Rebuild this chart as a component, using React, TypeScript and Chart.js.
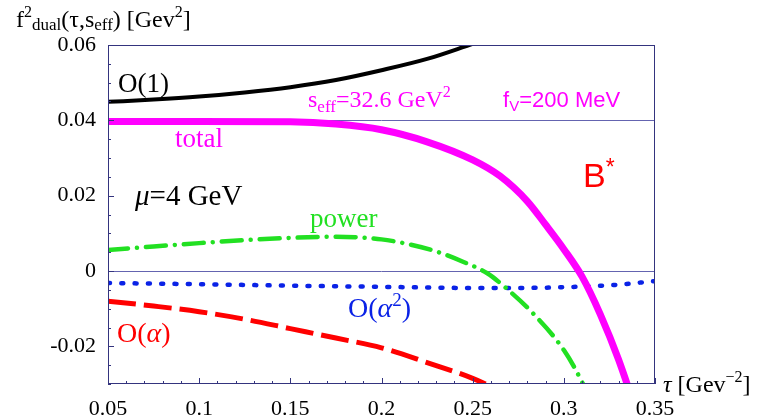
import React, { useEffect, useRef } from "react";
import { Chart, registerables } from "chart.js";
Chart.register(...registerables);

// ---- data ----
const tauO1 = [0.05, 0.075, 0.1, 0.125, 0.15, 0.175, 0.2, 0.225, 0.25];
const valO1 = [0.0449, 0.0455, 0.0463, 0.0474, 0.0488, 0.0507, 0.0533, 0.0563, 0.0603];

const tauTotal = [0.05, 0.1, 0.15, 0.175, 0.2, 0.225, 0.25, 0.265, 0.28, 0.29, 0.3, 0.31, 0.32, 0.33, 0.345];
const valTotal = [0.0397, 0.0397, 0.0396, 0.039, 0.0375, 0.0343, 0.0295, 0.0252, 0.0185, 0.0123, 0.0058, -0.0015, -0.0115, -0.0235, -0.045];

const tauPower = [0.05, 0.075, 0.1, 0.125, 0.15, 0.175, 0.2, 0.215, 0.23, 0.245, 0.258, 0.267, 0.283, 0.3, 0.31, 0.315];
const valPower = [0.0056, 0.0065, 0.0074, 0.0082, 0.0088, 0.0091, 0.0084, 0.0071, 0.0052, 0.0024, -0.0006, -0.004, -0.0112, -0.021, -0.0295, -0.035];

const tauAlpha2 = [0.05, 0.1, 0.15, 0.2, 0.25, 0.275, 0.3, 0.325, 0.35];
const valAlpha2 = [-0.0032, -0.0035, -0.0039, -0.0042, -0.0045, -0.0045, -0.0043, -0.0038, -0.0027];

const tauAlpha = [0.05, 0.075, 0.1, 0.125, 0.15, 0.175, 0.2, 0.225, 0.25, 0.265];
const valAlpha = [-0.008, -0.0093, -0.0108, -0.0128, -0.0153, -0.0178, -0.0204, -0.0243, -0.0285, -0.0318];

const xTickValues = [0.05, 0.1, 0.15, 0.2, 0.25, 0.3, 0.35];
const xTickLabels = ["0.05", "0.1", "0.15", "0.2", "0.25", "0.3", "0.35"];
const yTickValues = [-0.02, 0, 0.02, 0.04, 0.06];
const yTickLabels = ["-0.02", "0", "0.02", "0.04", "0.06"];
const refLines = [0, 0.04];

const zip = (xs: number[], ys: number[]) => xs.map((x, i) => ({ x, y: ys[i] }));

type Seg = { t: string; size: number; dy?: number; italic?: boolean; sans?: boolean };

const SERIF = '"Liberation Serif", "DejaVu Serif", serif';
const SANS = '"Liberation Sans", "DejaVu Sans", sans-serif';

function drawRich(ctx: CanvasRenderingContext2D, x: number, y: number, segs: Seg[], color: string) {
  let cx = x;
  ctx.fillStyle = color;
  ctx.textBaseline = "alphabetic";
  ctx.textAlign = "left";
  for (const s of segs) {
    ctx.font = `${s.italic ? "italic " : ""}${s.size}px ${s.sans ? SANS : SERIF}`;
    ctx.fillText(s.t, cx, y + (s.dy || 0));
    cx += ctx.measureText(s.t).width;
  }
}

const annotations: { tau: number; v: number; color: string; segs: Seg[] }[] = [
  { tau: 0.0555, v: 0.0475, color: "#000", segs: [{ t: "O(1)", size: 27 }] },
  { tau: 0.0867, v: 0.0329, color: "#ff00ff", segs: [{ t: "total", size: 27 }] },
  {
    tau: 0.1597, v: 0.0435, color: "#ff00ff",
    segs: [
      { t: "s", size: 24 }, { t: "eff", size: 17, dy: 5 }, { t: "=32.6 GeV", size: 24 }, { t: "2", size: 16, dy: -10 },
    ],
  },
  {
    tau: 0.2667, v: 0.0435, color: "#ff00ff",
    segs: [{ t: "f", size: 22, sans: true }, { t: "V", size: 15, dy: 4, sans: true }, { t: "=200 MeV", size: 22, sans: true }],
  },
  { tau: 0.3105, v: 0.0223, color: "#ff0000", segs: [{ t: "B", size: 34, sans: true }, { t: "*", size: 23, dy: -12, sans: true }] },
  { tau: 0.0648, v: 0.0175, color: "#000", segs: [{ t: "μ", size: 29, italic: true }, { t: "=4 GeV", size: 29 }] },
  { tau: 0.1608, v: 0.0117, color: "#22e022", segs: [{ t: "power", size: 27 }] },
  {
    tau: 0.1816, v: -0.0122, color: "#0a22e6",
    segs: [{ t: "O(", size: 28 }, { t: "α", size: 28, italic: true }, { t: "2", size: 19, dy: -11 }, { t: ")", size: 28 }],
  },
  {
    tau: 0.0549, v: -0.0188, color: "#ff0000",
    segs: [{ t: "O(", size: 28 }, { t: "α", size: 28, italic: true }, { t: ")", size: 28 }],
  },
];

const framePlugin = {
  id: "framePlugin",
  beforeDatasetsDraw(chart: any) {
    const { ctx, chartArea, scales } = chart;
    const { left, right } = chartArea;
    ctx.save();
    ctx.strokeStyle = "#6464b0";
    ctx.lineWidth = 1;
    for (const v of refLines) {
      const py = Math.round(scales.y.getPixelForValue(v)) + 0.5;
      ctx.beginPath();
      ctx.moveTo(left, py);
      ctx.lineTo(right, py);
      ctx.stroke();
    }
    ctx.restore();
  },
  afterDatasetsDraw(chart: any) {
    const { ctx, chartArea, scales } = chart;
    const { left, right, top, bottom } = chartArea;
    ctx.save();
    ctx.strokeStyle = "#34347e";
    ctx.lineWidth = 1;
    ctx.strokeRect(left + 0.5, top + 0.5, right - left - 1, bottom - top - 1);
    ctx.beginPath();
    for (let i = -6; i <= 12; i++) {
      const v = i * 0.005;
      const py = Math.round(scales.y.getPixelForValue(v)) + 0.5;
      const len = i % 4 === 0 ? 6 : 3;
      ctx.moveTo(left, py);
      ctx.lineTo(left + len, py);
    }
    for (let i = 5; i <= 35; i++) {
      const v = i * 0.01;
      const px = Math.round(scales.x.getPixelForValue(v)) + 0.5;
      const len = i % 5 === 0 ? 6 : 3;
      ctx.moveTo(px, bottom);
      ctx.lineTo(px, bottom - len);
    }
    ctx.stroke();
    ctx.restore();

    ctx.save();
    for (const a of annotations) {
      drawRich(ctx, scales.x.getPixelForValue(a.tau), scales.y.getPixelForValue(a.v), a.segs, a.color);
    }
    drawRich(ctx, 16, 27, [
      { t: "f", size: 24 }, { t: "2", size: 16, dy: -10 }, { t: "dual", size: 17, dy: 3 },
      { t: "(", size: 24 }, { t: "τ", size: 24 }, { t: ",s", size: 24 }, { t: "eff", size: 17, dy: 3 },
      { t: ") [Gev", size: 24 }, { t: "2", size: 16, dy: -10 }, { t: "]", size: 24 },
    ], "#000");
    drawRich(ctx, 663, 392, [
      { t: "τ", size: 24, italic: true }, { t: " [Gev", size: 24 }, { t: "−2", size: 16, dy: -10 }, { t: "]", size: 24 },
    ], "#000");
    ctx.restore();
  },
};

export default function App() {
  const ref = useRef<HTMLCanvasElement | null>(null);
  useEffect(() => {
    document.body.style.margin = "0";
    const canvas = ref.current;
    if (!canvas) return;
    const chart = new Chart(canvas, {
      type: "line",
      data: {
        datasets: [
          { label: "O(1)", data: zip(tauO1, valO1), borderColor: "#000", borderWidth: 4 },
          { label: "total", data: zip(tauTotal, valTotal), borderColor: "#ff00ff", borderWidth: 7 },
          {
            label: "power", data: zip(tauPower, valPower), borderColor: "#22e022", borderWidth: 4.5,
            borderDash: [20, 9, 0.01, 9], borderCapStyle: "round",
          },
          {
            label: "O(a2)", data: zip(tauAlpha2, valAlpha2), borderColor: "#0a22e6", borderWidth: 4.5,
            borderDash: [2, 11.3], borderCapStyle: "round",
          },
          {
            label: "O(a)", data: zip(tauAlpha, valAlpha), borderColor: "#ff0000", borderWidth: 5,
            borderDash: [28, 8], borderCapStyle: "butt",
          },
        ] as any,
      },
      options: {
        animation: false,
        responsive: false,
        maintainAspectRatio: false,
        layout: { padding: { left: 0, right: 111, top: 45, bottom: 0 } },
        elements: { point: { radius: 0 }, line: { cubicInterpolationMode: "monotone", fill: false } },
        datasets: { line: { clip: 0 } as any },
        plugins: { legend: { display: false }, tooltip: { enabled: false } },
        scales: {
          x: {
            type: "linear", min: 0.05, max: 0.35,
            grid: { display: false, drawTicks: false }, border: { display: false },
            afterBuildTicks: (s: any) => { s.ticks = xTickValues.map((v) => ({ value: v })); },
            afterFit: (s: any) => { s.height = 35; },
            ticks: {
              padding: 12, color: "#000", autoSkip: false, maxRotation: 0,
              font: { family: SERIF, size: 22 },
              callback: (v: any) => xTickLabels[xTickValues.indexOf(Number(v))] ?? "",
            },
          },
          y: {
            type: "linear", min: -0.03, max: 0.06,
            grid: { display: false, drawTicks: false }, border: { display: false },
            afterBuildTicks: (s: any) => { s.ticks = yTickValues.map((v) => ({ value: v })); },
            afterFit: (s: any) => { s.width = 108; },
            ticks: {
              padding: 12, color: "#000", autoSkip: false,
              font: { family: SERIF, size: 22 },
              callback: (v: any) => yTickLabels[yTickValues.indexOf(Number(v))] ?? "",
            },
          },
        },
      } as any,
      plugins: [framePlugin],
    });
    return () => chart.destroy();
  }, []);
  return (
    <div style={{ width: 766, height: 419 }}>
      <canvas ref={ref} width={766} height={419} style={{ display: "block" }} />
    </div>
  );
}
